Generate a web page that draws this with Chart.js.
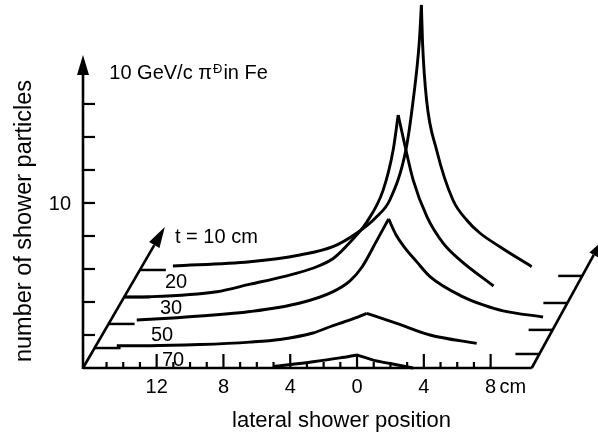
<!DOCTYPE html>
<html>
<head>
  <meta charset="UTF-8">
  <title>Lateral shower profiles, 10 GeV/c pions in Fe</title>
  <script src="https://cdn.jsdelivr.net/npm/chart.js"></script>
  <style>
    html, body { margin: 0; padding: 0; background: #fff; }
    #wrap { width: 598px; height: 436px; }
  </style>
</head>
<body>
  <div id="wrap"><canvas id="showerChart" width="598" height="436"></canvas></div>

  <script>
    // depth t (cm) of each lateral profile, from the back plane to the front one
    const depths = ['10', '20', '30', '50', '70'];
    // where each profile's zero line sits on the slanted depth axis (particle units)
    const depthLevels = [5.94, 4.30, 2.67, 1.21, 0];

    // lateral position (cm) and number of shower particles for every depth
    const posT10 = [-14.43, -9.82, -6.83, -4.85, -3.41, -2.23, -1.44, -0.48, -0.04, 0.32, 0.45, 0.52, 0.76, 1.36, 2.34, 3.16, 3.95, 5.15, 7.05];
    const numT10 = [0.24, 0.50, 0.91, 1.41, 2.24, 3.23, 4.24, 7.27, 10.30, 13.76, 16.06, 13.76, 10.30, 7.27, 4.24, 3.03, 2.24, 1.41, 0.20];

    const posT20 = [-16.35, -14.85, -10.86, -8.86, -6.87, -5.07, -3.87, -2.87, -1.87, -0.90, -0.30, 0.00, 0.42, 0.90, 1.72, 2.69, 3.71, 5.71];
    const numT20 = [0.00, 0.02, 0.32, 0.78, 1.24, 1.76, 2.35, 3.33, 4.56, 6.48, 8.91, 11.03, 9.11, 7.09, 4.87, 3.27, 2.24, 0.67];

    const posT30 = [-14.72, -13.92, -10.93, -7.93, -4.94, -2.96, -1.95, -1.23, -0.39, 0.36, 0.81, 1.29, 2.05, 2.84, 4.82, 6.02, 7.22, 9.61];
    const numT30 = [0.24, 0.28, 0.48, 0.75, 1.27, 1.96, 2.61, 3.45, 4.97, 6.36, 5.39, 4.67, 3.76, 2.87, 1.64, 1.15, 0.79, 0.42];

    const posT50 = [-15.08, -13.09, -10.10, -7.10, -5.31, -3.33, -2.31, -1.11, -0.11, 1.68, 3.68, 6.47];
    const numT50 = [0.14, 0.14, 0.21, 0.36, 0.52, 0.91, 1.29, 1.70, 2.10, 1.50, 0.79, 0.28];

    const posT70 = [-5.03, -2.63, -1.02, -0.02, 0.96, 1.98, 3.35];
    const numT70 = [0.09, 0.38, 0.61, 0.79, 0.48, 0.27, 0.00];

    // axis ticks
    const xMinorTicks = [-15, -14, -13, -12, -11, -10, -9, -8, -7, -6, -5, -4, -3, -2, -1, 0, 1, 2, 3, 4, 5, 6, 7, 8];
    const xMajorTicks = [-12, -8, -4, 0, 4, 8];
    const xTickLabels = ['12', '8', '4', '0', '4', '8'];
    const yTicks = [2, 4, 6, 8, 10, 12, 14, 16];
    const yLabelled = [10];

    // oblique (perspective) drawing: cm shifted right per unit of depth
    const SLANT_LEFT = 0.573;
    const SLANT_RIGHT = 0.542;
    const X_AXIS_END = 10.46;
    const RIGHT_DROP = 0.36;
    const FONT = '"Liberation Sans", Arial, sans-serif';

    const profiles = [
      { pos: posT10, num: numT10 },
      { pos: posT20, num: numT20 },
      { pos: posT30, num: numT30 },
      { pos: posT50, num: numT50 },
      { pos: posT70, num: numT70 }
    ];

    // each profile drawn as two branches so the peak stays a sharp cusp
    const datasets = [];
    profiles.forEach((p, k) => {
      const lvl = depthLevels[k];
      const pts = p.pos.map((x, i) => ({ x: x + SLANT_LEFT * lvl, y: p.num[i] + lvl }));
      const peak = p.num.indexOf(Math.max(...p.num));
      [pts.slice(0, peak + 1), pts.slice(peak)].forEach(branch => {
        datasets.push({
          label: 't = ' + depths[k] + ' cm',
          data: branch,
          showLine: true,
          borderColor: '#000',
          borderWidth: 2.9,
          pointRadius: 0,
          cubicInterpolationMode: 'monotone',
          fill: false,
          clip: false
        });
      });
    });

    function arrow(ctx, x0, y0, x1, y1, len, half) {
      const a = Math.atan2(y1 - y0, x1 - x0);
      const bx = x1 - len * Math.cos(a), by = y1 - len * Math.sin(a);
      ctx.beginPath(); ctx.moveTo(x0, y0); ctx.lineTo(bx, by); ctx.stroke();
      ctx.beginPath();
      ctx.moveTo(x1, y1);
      ctx.lineTo(bx + half * Math.sin(a), by - half * Math.cos(a));
      ctx.lineTo(bx - half * Math.sin(a), by + half * Math.cos(a));
      ctx.closePath(); ctx.fill();
    }

    // draws the pseudo-3D frame, ticks and texts through the chart's scales
    const frame3d = {
      id: 'frame3d',
      beforeDatasetsDraw(chart) {
        const ctx = chart.ctx;
        const xs = chart.scales.x, ys = chart.scales.y;
        const X = v => xs.getPixelForValue(v), Y = v => ys.getPixelForValue(v);
        const x0 = xs.min;

        ctx.save();
        ctx.strokeStyle = '#000';
        ctx.fillStyle = '#000';
        ctx.lineCap = 'butt';

        // vertical axis with arrow
        ctx.lineWidth = 2.6;
        arrow(ctx, X(x0), Y(0) + 1, X(x0), Y(18.97), 20, 6);
        ctx.lineWidth = 2.2;
        yTicks.forEach(v => {
          ctx.beginPath(); ctx.moveTo(X(x0), Y(v)); ctx.lineTo(X(x0) + 12, Y(v)); ctx.stroke();
        });

        // lateral axis
        ctx.lineWidth = 2.6;
        ctx.beginPath(); ctx.moveTo(X(x0), Y(0)); ctx.lineTo(X(X_AXIS_END), Y(0)); ctx.stroke();
        ctx.lineWidth = 2.2;
        xMinorTicks.forEach(v => {
          const h = xMajorTicks.includes(v) ? 14 : 6;
          ctx.beginPath(); ctx.moveTo(X(v), Y(0)); ctx.lineTo(X(v), Y(0) - h); ctx.stroke();
        });

        // left depth axis (arrow) and its ticks
        ctx.lineWidth = 2.6;
        const tip = 8.55;
        arrow(ctx, X(x0), Y(0), X(x0 + SLANT_LEFT * tip), Y(tip), 21, 6);
        ctx.lineWidth = 2.5;
        depthLevels.forEach(l => {
          if (l === 0) return;
          const sx = X(x0 + SLANT_LEFT * l);
          ctx.beginPath(); ctx.moveTo(sx, Y(l)); ctx.lineTo(sx + 26, Y(l)); ctx.stroke();
        });

        // right depth axis and its ticks
        ctx.lineWidth = 2.6;
        const rtip = 7.6;
        arrow(ctx, X(X_AXIS_END), Y(0), X(X_AXIS_END + SLANT_RIGHT * rtip), Y(rtip), 14, 5);
        ctx.lineWidth = 2.5;
        depthLevels.forEach(l => {
          if (l === 0) return;
          const r = l - RIGHT_DROP;
          const ex = X(X_AXIS_END + SLANT_RIGHT * r);
          ctx.beginPath(); ctx.moveTo(ex, Y(r)); ctx.lineTo(ex - 24, Y(r)); ctx.stroke();
        });

        // tick labels
        ctx.font = '20px ' + FONT;
        ctx.textBaseline = 'alphabetic';
        ctx.textAlign = 'center';
        xMajorTicks.forEach((v, i) => ctx.fillText(xTickLabels[i], X(v), 393));
        ctx.textAlign = 'left';
        ctx.fillText('cm', X(8) + 9, 393);
        ctx.textAlign = 'right';
        yLabelled.forEach(v => ctx.fillText(String(v), X(x0) - 12, Y(v) + 7));

        // depth labels
        ctx.textAlign = 'left';
        ctx.fillText('t = 10 cm', 175, 242.5);
        ctx.fillText(depths[1], 165, 288.3);
        ctx.fillText(depths[2], 160, 314.3);
        ctx.fillText(depths[3], 151, 341);
        ctx.fillText(depths[4], 162, 365.5);

        // beam annotation
        let tx = 109.3;
        ctx.fillText('10 GeV/c ', tx, 79); tx += ctx.measureText('10 GeV/c ').width;
        ctx.fillText('\u03c0', tx, 79); tx += ctx.measureText('\u03c0').width + 1;
        ctx.font = '13px ' + FONT;
        ctx.fillText('\u00d0', tx, 73); tx += ctx.measureText('\u00d0').width + 1;
        ctx.font = '20px ' + FONT;
        ctx.fillText('in Fe', tx, 79);

        // axis titles
        ctx.font = '22px ' + FONT;
        ctx.textAlign = 'center';
        ctx.fillText('lateral shower position', 341.5, 426.5);
        ctx.font = '23.5px ' + FONT;
        ctx.translate(30.5, 221);
        ctx.rotate(-Math.PI / 2);
        ctx.fillText('number of shower particles', 0, 0);
        ctx.restore();
      }
    };

    const ctx = document.getElementById('showerChart').getContext('2d');
    new Chart(ctx, {
      type: 'scatter',
      data: { datasets: datasets },
      options: {
        responsive: false,
        animation: false,
        layout: { padding: { left: 83, right: 0, top: 0, bottom: 68 } },
        plugins: { legend: { display: false }, tooltip: { enabled: false } },
        scales: {
          x: { type: 'linear', min: -16.41, max: 14.43, display: false },
          y: { type: 'linear', min: 0, max: 22.3, display: false }
        }
      },
      plugins: [frame3d]
    });
  </script>
</body>
</html>
